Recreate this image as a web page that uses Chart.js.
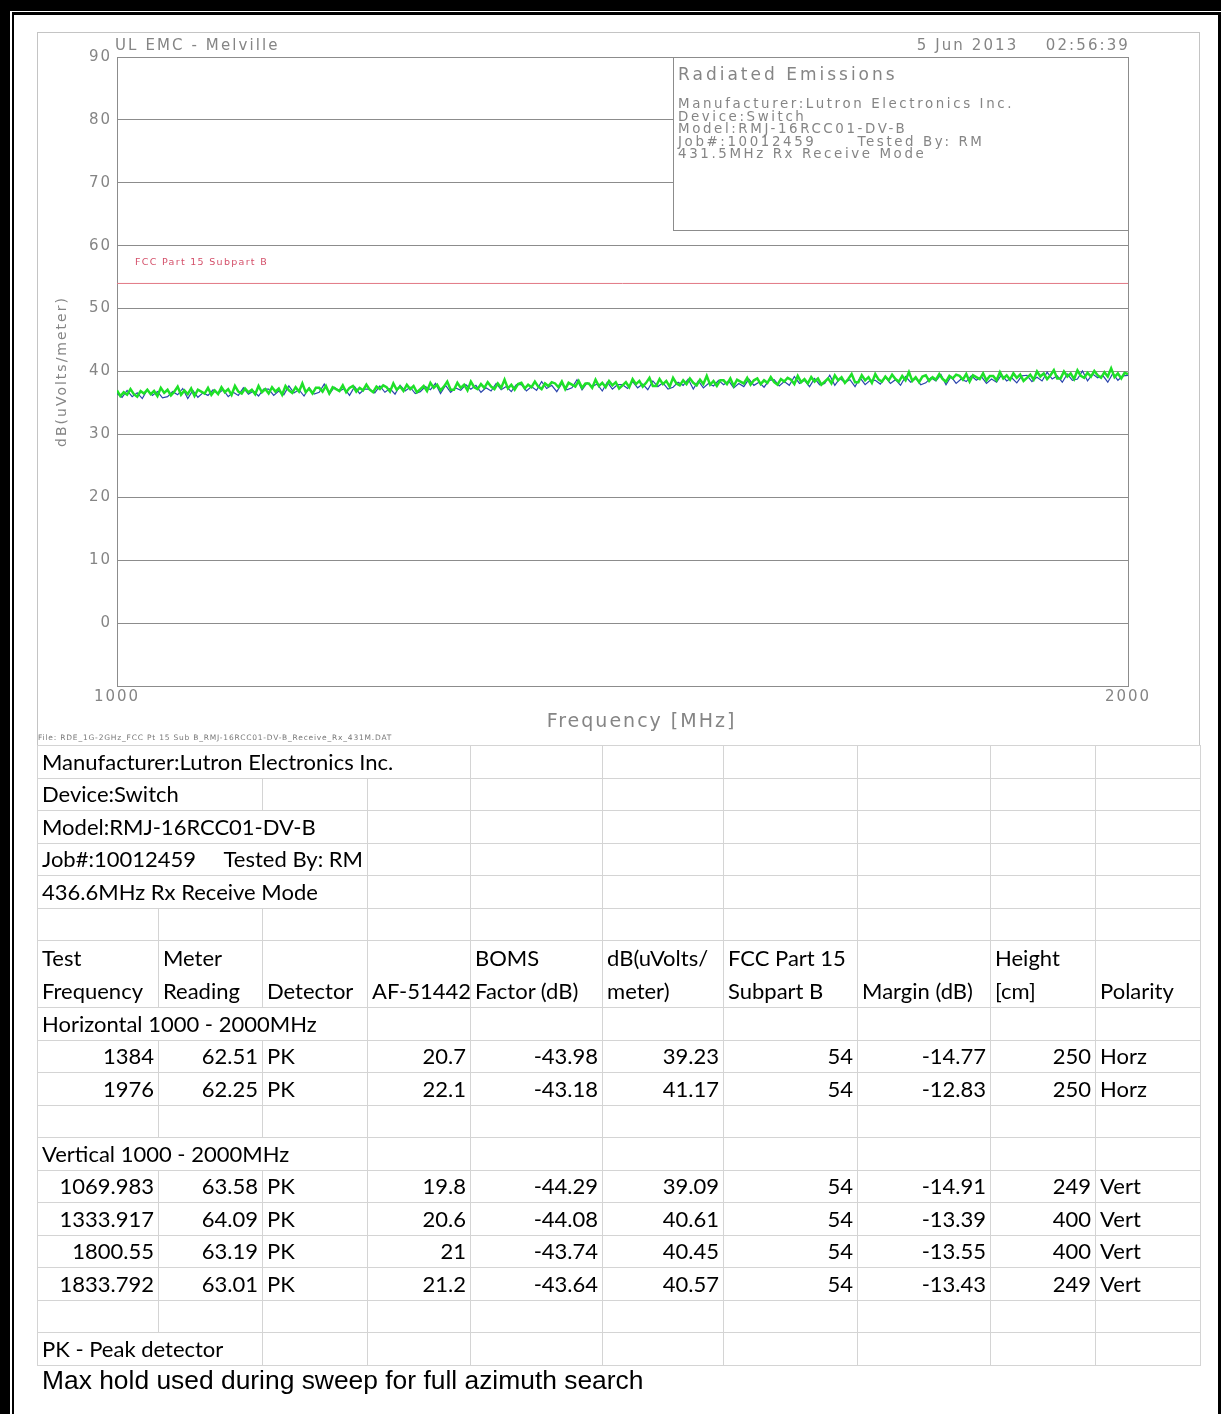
<!DOCTYPE html>
<html>
<head>
<meta charset="utf-8">
<title>Radiated Emissions 1000 - 2000 MHz</title>
<script src="https://cdn.jsdelivr.net/npm/chart.js@4.4.1/dist/chart.umd.min.js"></script>
<style>
  html, body { margin: 0; padding: 0; background: #fff; }
  body { width: 1221px; height: 1414px; position: relative; overflow: hidden; }
  .rule { position: absolute; background: #000; }
  #plot { position: absolute; left: 37px; top: 32px; }
  #plotFrame { position: absolute; left: 37px; top: 32px; width: 1163px; height: 714px;
               border: 1px solid #c4c4c4; box-sizing: border-box; pointer-events: none; }
  #results { position: absolute; left: 37px; top: 745px; border-collapse: collapse; table-layout: fixed;
             width: 1164px; font-family: Lato, "Open Sans", sans-serif; font-size: 22px; color: #000; }
  #results td { border: 1px solid #d4d4d4; height: 31.5px; padding: 0 4px; white-space: pre;
                overflow: hidden; vertical-align: middle; line-height: 24px; }
  #results td.num { text-align: right; }
  #results tr.head td { height: 64px; vertical-align: bottom; line-height: 33px; padding-bottom: 0; }
  #note { position: absolute; left: 42px; top: 1365px; font-family: "Liberation Sans", Arial, sans-serif;
          font-size: 26.4px; line-height: 30px; color: #000; white-space: nowrap; }
</style>
</head>
<body>
<div class="rule" style="left:0;top:0;width:1221px;height:11px"></div>
<div class="rule" style="left:0;top:0;width:10px;height:1414px"></div>
<div class="rule" style="left:12px;top:12px;width:1209px;height:3px"></div>
<div class="rule" style="left:12px;top:12px;width:2px;height:1402px"></div>
<div class="rule" style="left:1218px;top:12px;width:3px;height:1402px"></div>

<canvas id="plot" width="1163" height="714"></canvas>
<div id="plotFrame"></div>
<table id="results"><colgroup id="cols"></colgroup><tbody id="resultsBody"></tbody></table>
<div id="note">Max hold used during sweep for full azimuth search</div>

<script>
// ---- sweep: 1000 - 2000 MHz, max-hold traces in dB(uV/m) ----
const sweepStartMHz = 1000;
const sweepStopMHz = 2000;

// horizontal antenna polarisation (green)
const horizontalTrace = [
  37.0, 36.1, 36.7, 36.3, 37.2, 36.4, 36.0, 36.9, 36.5, 37.1,
  36.4, 36.9, 36.1, 37.4, 36.6, 37.1, 36.2, 36.8, 37.6, 36.3,
  37.0, 36.4, 37.3, 36.1, 37.1, 36.8, 36.5, 37.4, 36.3, 37.0,
  36.4, 37.5, 36.7, 37.2, 36.3, 37.7, 36.8, 36.5, 37.3, 36.7,
  37.1, 36.4, 37.7, 36.7, 37.2, 36.5, 37.5, 36.8, 37.3, 36.3,
  37.7, 37.0, 36.6, 37.5, 36.8, 38.1, 36.7, 37.3, 36.5, 37.4,
  37.4, 36.8, 37.7, 36.5, 37.5, 37.2, 36.9, 37.8, 36.7, 37.4,
  37.7, 36.8, 37.4, 37.0, 37.9, 37.1, 36.7, 37.6, 37.2, 37.8,
  37.5, 36.8, 38.1, 37.1, 37.6, 36.9, 37.9, 37.2, 37.7, 36.7,
  37.2, 37.7, 36.9, 38.2, 37.4, 37.9, 37.0, 37.6, 38.4, 37.1,
  37.1, 38.2, 37.4, 37.9, 37.0, 38.4, 37.5, 37.2, 38.0, 37.4,
  38.3, 37.6, 37.2, 38.1, 37.4, 38.7, 37.3, 37.9, 37.1, 38.0,
  38.2, 37.3, 37.9, 37.5, 38.4, 37.6, 37.2, 38.1, 37.7, 38.3,
  38.1, 37.5, 38.4, 37.2, 38.2, 37.9, 37.6, 38.5, 37.4, 38.1,
  38.1, 37.4, 38.7, 37.7, 38.2, 37.5, 38.5, 37.8, 38.3, 37.3,
  37.8, 38.3, 37.5, 38.8, 38.0, 38.5, 37.6, 38.2, 39.0, 37.7,
  37.7, 38.8, 38.0, 38.5, 37.6, 39.0, 38.1, 37.8, 38.6, 38.0,
  38.9, 38.2, 37.8, 38.7, 38.0, 39.3, 37.9, 38.5, 37.7, 38.6,
  38.6, 38.0, 38.9, 37.7, 38.7, 38.4, 38.1, 39.0, 37.9, 38.6,
  38.9, 38.0, 38.6, 38.2, 39.1, 38.3, 37.9, 38.8, 38.4, 39.0,
  38.7, 38.0, 39.3, 38.3, 38.8, 38.1, 39.1, 38.4, 38.9, 37.9,
  38.4, 38.9, 38.1, 39.4, 38.6, 39.1, 38.2, 38.8, 39.6, 38.3,
  38.3, 39.4, 38.6, 39.1, 38.2, 39.6, 38.7, 38.4, 39.2, 38.6,
  39.5, 38.8, 38.4, 39.3, 38.6, 39.9, 38.5, 39.1, 38.3, 39.2,
  39.4, 38.5, 39.1, 38.7, 39.6, 38.8, 38.4, 39.3, 38.9, 39.5,
  39.3, 38.7, 39.6, 38.4, 39.4, 39.1, 38.8, 39.7, 38.6, 39.3,
  39.3, 38.6, 39.9, 38.9, 39.4, 38.7, 39.7, 39.0, 39.5, 38.5,
  39.0, 39.5, 38.7, 40.0, 39.2, 39.7, 38.8, 39.4, 40.2, 38.9,
  38.9, 40.0, 39.2, 39.7, 38.8, 40.2, 39.3, 39.0, 39.8, 39.2,
  40.1, 39.4, 39.0, 39.9, 39.2, 40.5, 39.1, 39.7, 38.9, 39.8,
  39.6
];

// vertical antenna polarisation (blue)
const verticalTrace = [
  36.5, 35.9, 37.0, 36.0, 36.6, 35.7, 37.1, 36.2, 36.8, 35.8,
  36.0, 36.8, 36.3, 37.3, 35.7, 37.0, 35.9, 36.6, 36.2, 37.1,
  36.5, 37.1, 36.0, 36.7, 36.2, 37.4, 36.4, 36.9, 36.1, 37.2,
  37.2, 36.2, 36.9, 36.3, 37.7, 36.6, 37.1, 36.1, 37.4, 36.4,
  36.7, 38.0, 36.4, 37.5, 36.9, 37.3, 36.2, 37.6, 36.5, 37.2,
  37.2, 36.6, 37.7, 36.7, 37.3, 36.4, 37.8, 36.9, 37.5, 36.5,
  36.8, 37.6, 37.1, 38.1, 36.5, 37.8, 36.7, 37.4, 37.0, 37.9,
  37.2, 37.8, 36.7, 37.4, 36.9, 38.1, 37.1, 37.6, 36.8, 37.9,
  37.9, 36.9, 37.6, 37.0, 38.4, 37.3, 37.8, 36.8, 38.1, 37.1,
  37.4, 38.7, 37.1, 38.2, 37.6, 38.0, 36.9, 38.3, 37.2, 37.9,
  37.9, 37.3, 38.4, 37.4, 38.0, 37.1, 38.5, 37.6, 38.2, 37.2,
  37.5, 38.3, 37.8, 38.8, 37.2, 38.5, 37.4, 38.1, 37.7, 38.6,
  37.9, 38.5, 37.4, 38.1, 37.6, 38.8, 37.8, 38.3, 37.5, 38.6,
  38.7, 37.7, 38.4, 37.8, 39.2, 38.1, 38.6, 37.6, 38.9, 37.9,
  38.1, 39.4, 37.8, 38.9, 38.3, 38.7, 37.6, 39.0, 37.9, 38.6,
  38.6, 38.0, 39.1, 38.1, 38.7, 37.8, 39.2, 38.3, 38.9, 37.9,
  38.2, 39.0, 38.5, 39.5, 37.9, 39.2, 38.1, 38.8, 38.4, 39.3,
  38.6, 39.2, 38.1, 38.8, 38.3, 39.5, 38.5, 39.0, 38.2, 39.3,
  39.4, 38.4, 39.1, 38.5, 39.9, 38.8, 39.3, 38.3, 39.6, 38.6,
  38.8, 40.1, 38.5, 39.6, 39.0, 39.4, 38.3, 39.7, 38.6, 39.3,
  39.4
];

const limitLabel = "FCC Part 15 Subpart B";
const limitDb = 54;

const yTickValues = [-10, 0, 10, 20, 30, 40, 50, 60, 70, 80, 90];
const xTickValues = [1000, 2000];
const xAxisTitle = "Frequency [MHz]";
const yAxisTitle = "dB(uVolts/meter)";

const plotHeaderLeft = "UL EMC - Melville";
const plotHeaderRight = "5 Jun 2013    02:56:39";
const infoTitle = "Radiated Emissions";
const infoLines = [
  "Manufacturer:Lutron Electronics Inc.",
  "Device:Switch",
  "Model:RMJ-16RCC01-DV-B",
  "Job#:10012459      Tested By: RM",
  "431.5MHz Rx Receive Mode"
];
const fileName = "File: RDE_1G-2GHz_FCC Pt 15 Sub B_RMJ-16RCC01-DV-B_Receive_Rx_431M.DAT";

// ---- measured peaks table ----
const detailRows = [
  "Manufacturer:Lutron Electronics Inc.",
  "Device:Switch",
  "Model:RMJ-16RCC01-DV-B",
  "Job#:10012459     Tested By: RM",
  "436.6MHz Rx Receive Mode"
];
const headTop = ["Test", "Meter", "", "", "BOMS", "dB(uVolts/", "FCC Part 15", "", "Height", ""];
const headBottom = ["Frequency", "Reading", "Detector", "AF-51442", "Factor (dB)", "meter)", "Subpart B", "Margin (dB)", "[cm]", "Polarity"];

const horzTitle = "Horizontal 1000 - 2000MHz";
const horzFreq = [1384, 1976];
const horzMeter = [62.51, 62.25];
const horzDetector = ["PK", "PK"];
const horzAF = [20.7, 22.1];
const horzBoms = [-43.98, -43.18];
const horzField = [39.23, 41.17];
const horzLimit = [54, 54];
const horzMargin = [-14.77, -12.83];
const horzHeight = [250, 250];
const horzPolarity = ["Horz", "Horz"];

const vertTitle = "Vertical 1000 - 2000MHz";
const vertFreq = [1069.983, 1333.917, 1800.55, 1833.792];
const vertMeter = [63.58, 64.09, 63.19, 63.01];
const vertDetector = ["PK", "PK", "PK", "PK"];
const vertAF = [19.8, 20.6, 21, 21.2];
const vertBoms = [-44.29, -44.08, -43.74, -43.64];
const vertField = [39.09, 40.61, 40.45, 40.57];
const vertLimit = [54, 54, 54, 54];
const vertMargin = [-14.91, -13.39, -13.55, -13.43];
const vertHeight = [249, 400, 400, 249];
const vertPolarity = ["Vert", "Vert", "Vert", "Vert"];

const footnote = "PK - Peak detector";

// ---------------------------------------------------------------------------
const PLOT_FONT = "'DejaVu Sans', 'Liberation Sans', sans-serif";
const PLOT_INK = "#858585";
const GRID_INK = "#8c8c8c";

function sweepPoints(values) {
  const n = values.length - 1;
  return values.map((v, i) => ({ x: sweepStartMHz + (sweepStopMHz - sweepStartMHz) * i / n, y: v }));
}

const plotDecor = {
  id: 'plotDecor',
  beforeDraw(chart) {
    chart.ctx.letterSpacing = '2px';
  },
  beforeDatasetsDraw(chart) {
    // information block sits on top of the grid
    const { ctx, chartArea, scales } = chart;
    const left = scales.x.getPixelForValue(1550);
    const bottom = scales.y.getPixelForValue(62.5);
    ctx.save();
    ctx.fillStyle = '#fff';
    ctx.fillRect(left, chartArea.top, chartArea.right - left, bottom - chartArea.top);
    ctx.strokeStyle = GRID_INK;
    ctx.lineWidth = 1;
    ctx.strokeRect(Math.round(left) + 0.5, chartArea.top + 0.5, Math.round(chartArea.right - left), Math.round(bottom - chartArea.top));
    ctx.restore();
  },
  afterDraw(chart) {
    const { ctx, chartArea, scales } = chart;
    ctx.save();
    ctx.fillStyle = PLOT_INK;
    ctx.textBaseline = 'middle';

    // header line above the plot
    ctx.letterSpacing = '2.1px';
    ctx.font = `15px ${PLOT_FONT}`;
    ctx.textAlign = 'left';
    ctx.fillText(plotHeaderLeft, chartArea.left - 2, chartArea.top - 11);
    ctx.textAlign = 'right';
    ctx.fillText(plotHeaderRight, chartArea.right + 2, chartArea.top - 11);

    // x axis title
    ctx.textAlign = 'center';
    ctx.letterSpacing = '2px';
    ctx.font = `19px ${PLOT_FONT}`;
    ctx.fillText(xAxisTitle, (chartArea.left + chartArea.right) / 2 + 19, chartArea.bottom + 36);

    // information block
    const boxLeft = scales.x.getPixelForValue(1550);
    ctx.textAlign = 'left';
    ctx.letterSpacing = '3px';
    ctx.font = `17px ${PLOT_FONT}`;
    ctx.fillText(infoTitle, boxLeft + 5, chartArea.top + 19);
    ctx.letterSpacing = '2.6px';
    ctx.font = `13.4px ${PLOT_FONT}`;
    infoLines.forEach((t, i) => ctx.fillText(t, boxLeft + 5, chartArea.top + 48 + i * 12.4));

    // limit caption
    ctx.fillStyle = '#d4506a';
    ctx.letterSpacing = '1.3px';
    ctx.font = `9.5px ${PLOT_FONT}`;
    ctx.fillText(limitLabel, chartArea.left + 18, scales.y.getPixelForValue(limitDb) - 21);

    // data file name along the bottom edge
    ctx.fillStyle = '#777';
    ctx.letterSpacing = '0.8px';
    ctx.font = `7.5px ${PLOT_FONT}`;
    ctx.fillText(fileName, 1, chart.height - 8);
    ctx.restore();
  }
};

new Chart(document.getElementById('plot'), {
  type: 'line',
  data: {
    datasets: [
      { label: 'Horizontal', data: sweepPoints(horizontalTrace), borderColor: '#1ee028', borderWidth: 2.5,
        pointRadius: 0, tension: 0 },
      { label: 'Vertical', data: sweepPoints(verticalTrace), borderColor: '#2b45ad', borderWidth: 1.2,
        pointRadius: 0, tension: 0 },
      { label: limitLabel, data: [{ x: sweepStartMHz, y: limitDb }, { x: sweepStopMHz, y: limitDb }],
        borderColor: '#e27884', borderWidth: 1, pointRadius: 0 }
    ]
  },
  options: {
    responsive: false,
    animation: false,
    devicePixelRatio: 1,
    layout: { padding: { top: 25, right: 72, bottom: 0, left: 0 } },
    plugins: { legend: { display: false }, tooltip: { enabled: false } },
    scales: {
      x: {
        type: 'linear', min: sweepStartMHz, max: sweepStopMHz,
        afterBuildTicks: s => { s.ticks = xTickValues.map(v => ({ value: v })); },
        afterFit: s => { s.height = 60; },
        grid: { color: GRID_INK, drawTicks: false, lineWidth: 1 },
        border: { display: true, color: GRID_INK },
        ticks: { padding: 2, color: PLOT_INK, font: { family: PLOT_FONT, size: 15 }, maxRotation: 0, autoSkip: false,
                 callback: v => String(v) },
        title: { display: false }
      },
      y: {
        min: -10, max: 90,
        afterBuildTicks: s => { s.ticks = yTickValues.map(v => ({ value: v })); },
        afterFit: s => { s.width = 80; },
        grid: { color: GRID_INK, drawTicks: false, lineWidth: 1 },
        border: { display: true, color: GRID_INK },
        ticks: { padding: 5, color: PLOT_INK, font: { family: PLOT_FONT, size: 15 },
                 callback: v => (v === -10 ? '' : String(v)) },
        title: { display: true, text: yAxisTitle, color: PLOT_INK,
                 font: { family: PLOT_FONT, size: 14 }, padding: { top: 17, bottom: 0 } }
      }
    }
  },
  plugins: [plotDecor]
});

// ---- results table ----
const colWidths = [121, 104, 105, 103, 132, 121, 134, 133, 105, 105];
const colgroup = document.getElementById('cols');
colWidths.forEach(w => { const c = document.createElement('col'); c.style.width = w + 'px'; colgroup.appendChild(c); });

const body = document.getElementById('resultsBody');
function addRow(cells, cls) {
  const tr = document.createElement('tr');
  if (cls) tr.className = cls;
  cells.forEach(c => {
    const td = document.createElement('td');
    if (c.span) td.colSpan = c.span;
    if (c.num) td.className = 'num';
    if (c.html !== undefined) td.innerHTML = c.html; else td.textContent = c.text || '';
    tr.appendChild(td);
  });
  body.appendChild(tr);
}
function textRow(text, span) {
  const cells = [{ text, span }];
  for (let i = span; i < colWidths.length; i++) cells.push({});
  addRow(cells);
}
function emptyRow() { addRow(colWidths.map(() => ({}))); }
function dataRows(f, m, d, af, b, fs, lim, mg, h, p) {
  f.forEach((_, i) => addRow([
    { text: String(f[i]), num: true }, { text: String(m[i]), num: true }, { text: d[i] },
    { text: String(af[i]), num: true }, { text: String(b[i]), num: true }, { text: String(fs[i]), num: true },
    { text: String(lim[i]), num: true }, { text: String(mg[i]), num: true }, { text: String(h[i]), num: true },
    { text: p[i] }
  ]));
}

const detailSpans = [4, 2, 3, 3, 3];
detailRows.forEach((t, i) => textRow(t, detailSpans[i]));
emptyRow();
addRow(headTop.map((t, i) => ({ html: (t ? t : '') + '<br>' + headBottom[i] })), 'head');
textRow(horzTitle, 3);
dataRows(horzFreq, horzMeter, horzDetector, horzAF, horzBoms, horzField, horzLimit, horzMargin, horzHeight, horzPolarity);
emptyRow();
textRow(vertTitle, 3);
dataRows(vertFreq, vertMeter, vertDetector, vertAF, vertBoms, vertField, vertLimit, vertMargin, vertHeight, vertPolarity);
emptyRow();
textRow(footnote, 2);
</script>
</body>
</html>
